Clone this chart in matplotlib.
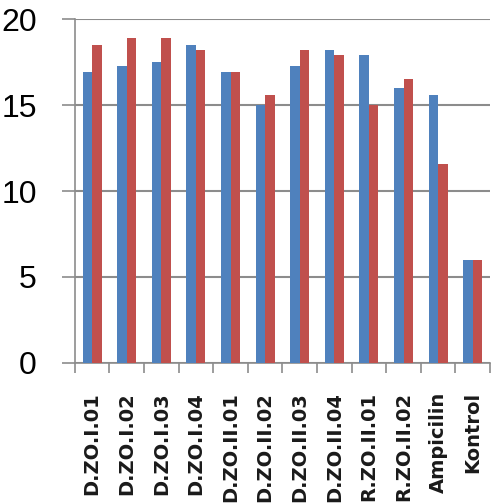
import matplotlib
matplotlib.use('Agg')
import matplotlib.pyplot as plt
import numpy as np

# Data
categories = ['D.ZO.I.01', 'D.ZO.I.02', 'D.ZO.I.03', 'D.ZO.I.04',
              'D.ZO.II.01', 'D.ZO.II.02', 'D.ZO.II.03', 'D.ZO.II.04',
              'R.ZO.II.01', 'R.ZO.II.02', 'Ampicilin', 'Kontrol']
series_blue = [16.9, 17.3, 17.5, 18.5, 16.9, 15.0, 17.3, 18.2, 17.9, 16.0, 15.6, 6.0]
series_red = [18.5, 18.9, 18.9, 18.2, 16.9, 15.6, 18.2, 17.9, 15.0, 16.5, 11.6, 6.0]
y_ticks = [0, 5, 10, 15, 20]

grid_gray = '#8c8c8c'

fig = plt.figure(figsize=(4.96, 5.04), dpi=100)
ax = fig.add_axes([0.151, 0.280, 0.837, 0.682])

x = np.arange(len(categories))
w = 0.275
ax.bar(x - w / 2, series_blue, width=w, color='#4F81BD', zorder=3)
ax.bar(x + w / 2, series_red, width=w, color='#C0504D', zorder=3)

ax.set_xlim(-0.5, len(categories) - 0.5)
ax.set_ylim(0, 20)

# y axis
ax.set_yticks(y_ticks)
ax.set_yticklabels([str(v) for v in y_ticks], family='Liberation Sans', fontsize=23)
ax.tick_params(axis='y', length=9.5, width=1.2, color=grid_gray, pad=18)
ax.yaxis.grid(True, color=grid_gray, linewidth=1.5, zorder=0)

# x axis: labels at centres, tick marks between categories
ax.set_xticks(x)
ax.set_xticklabels(categories, rotation=90, va='top', ha='center',
                   family='DejaVu Sans', fontweight='bold', fontsize=14,
                   color='#1a1a1a')
ax.tick_params(axis='x', which='major', length=0, pad=21)
ax.set_xticks(np.arange(-0.5, len(categories), 1.0), minor=True)
ax.tick_params(axis='x', which='minor', length=7, width=1.2, color=grid_gray)

for side in ['top', 'right']:
    ax.spines[side].set_visible(False)
for side in ['left', 'bottom']:
    ax.spines[side].set_color(grid_gray)
    ax.spines[side].set_linewidth(1.2)

fig.savefig('out.png', dpi=100)
